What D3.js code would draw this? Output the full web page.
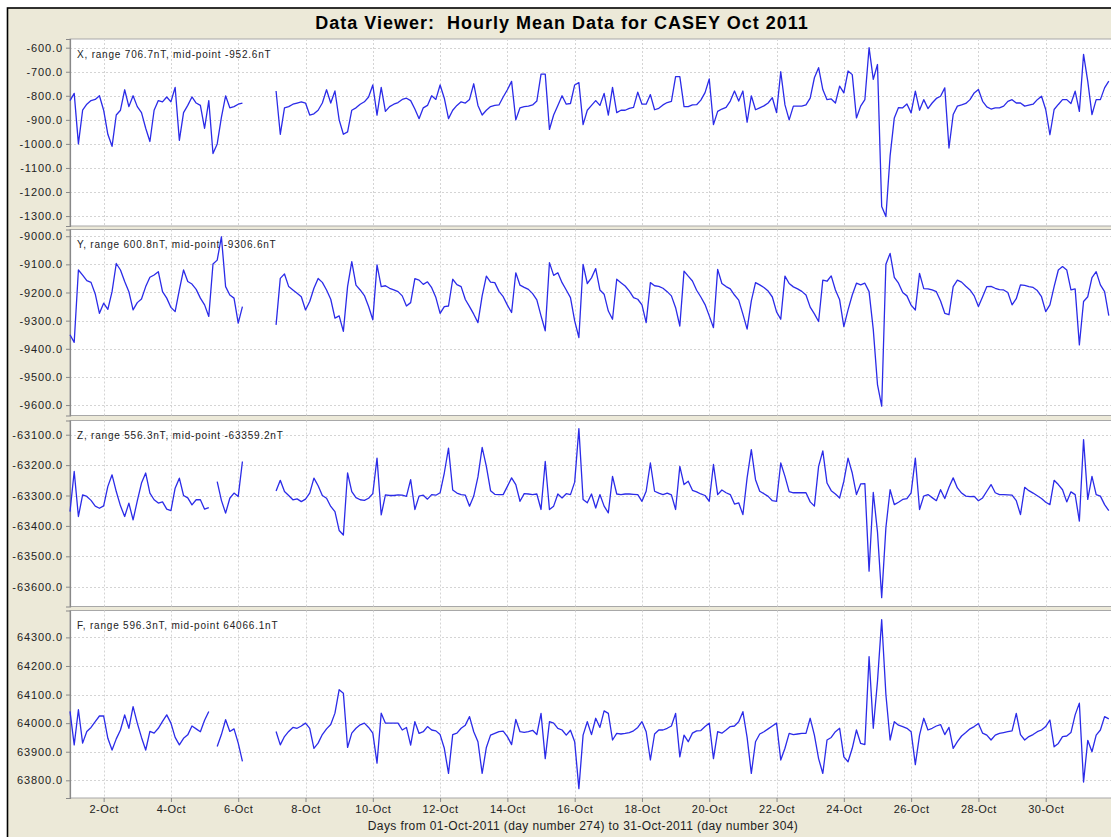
<!DOCTYPE html>
<html>
<head>
<meta charset="utf-8">
<script src="https://cdn.jsdelivr.net/npm/d3@7"></script>
<style>
  html, body { margin: 0; padding: 0; background: #ffffff; }
  svg { display: block; }
  text { font-family: "Liberation Sans", Arial, sans-serif; white-space: pre; }
</style>
</head>
<body>
<svg id="chart" width="1111" height="837"></svg>
<script>
// ---------------- DATA (3-hourly readings, 1 Oct 2011 00:00 UT onward) ----------------
const startDate = Date.UTC(2011, 9, 1);
const endDate = Date.UTC(2011, 10, 1);
const stepHours = 3;

const componentNames = ["X", "Y", "Z", "F"];
const componentRanges = [706.7, 600.8, 556.3, 596.3];
const componentMidpoints = [-952.6, -9306.6, -63359.2, 64066.1];

const ticksX = [-600, -700, -800, -900, -1000, -1100, -1200, -1300];
const ticksY = [-9000, -9100, -9200, -9300, -9400, -9500, -9600];
const ticksZ = [-63100, -63200, -63300, -63400, -63500, -63600];
const ticksF = [64300, 64200, 64100, 64000, 63900, 63800];

const dateTicks = ["2011-10-02","2011-10-04","2011-10-06","2011-10-08","2011-10-10","2011-10-12","2011-10-14",
  "2011-10-16","2011-10-18","2011-10-20","2011-10-22","2011-10-24","2011-10-26","2011-10-28","2011-10-30"];

const seriesX = [
  -820,-790,-1000,-860,-835,-820,-815,-800,
  -860,-960,-1010,-880,-860,-775,-845,-800,
  -845,-870,-935,-990,-860,-820,-825,-805,
  -825,-765,-985,-870,-840,-805,-830,-840,
  -935,-820,-1040,-1000,-890,-800,-850,-845,
  -835,-830,null,null,null,null,null,null,
  null,-780,-960,-850,-845,-835,-830,-825,
  -830,-880,-875,-860,-830,-775,-830,-780,
  -900,-960,-950,-860,-850,-835,-825,-805,
  -755,-880,-765,-865,-845,-835,-828,-815,
  -810,-820,-855,-895,-850,-840,-800,-815,
  -755,-810,-895,-860,-840,-825,-830,-815,
  -750,-840,-880,-860,-845,-840,-838,-805,
  -775,-740,-900,-850,-845,-843,-838,-822,
  -710,-710,-940,-880,-840,-800,-835,-832,
  -755,-745,-920,-860,-840,-820,-840,-790,
  -880,-765,-870,-860,-860,-852,-848,-785,
  -835,-835,-795,-858,-852,-838,-828,-823,
  -720,-720,-845,-845,-838,-837,-818,-787,
  -730,-920,-865,-855,-848,-822,-780,-822,
  -780,-910,-800,-858,-850,-842,-830,-808,
  -870,-700,-838,-900,-843,-843,-843,-838,
  -810,-725,-683,-774,-816,-813,-830,-760,
  -788,-697,-712,-892,-843,-816,-600,-732,
  -670,-1260,-1302,-1050,-892,-849,-850,-834,
  -871,-781,-860,-816,-853,-830,-811,-802,
  -767,-1017,-878,-843,-838,-832,-816,-788,
  -774,-823,-846,-855,-850,-850,-843,-823,
  -816,-830,-830,-843,-839,-835,-816,-802,
  -857,-962,-857,-836,-816,-816,-832,-781,
  -865,-628,-740,-878,-816,-816,-767,-739
];

const seriesY = [
  -9350,-9377,-9120,-9138,-9158,-9164,-9205,-9274,
  -9238,-9260,-9197,-9097,-9120,-9161,-9197,-9262,
  -9236,-9223,-9179,-9146,-9138,-9126,-9197,-9220,
  -9253,-9268,-9191,-9120,-9161,-9170,-9189,-9220,
  -9244,-9285,-9099,-9085,-9002,-9179,-9209,-9220,
  -9309,-9250,null,null,null,null,null,null,
  null,-9315,-9150,-9134,-9179,-9191,-9203,-9215,
  -9262,-9232,-9185,-9150,-9164,-9191,-9224,-9291,
  -9283,-9338,-9179,-9090,-9174,-9191,-9211,-9250,
  -9297,-9102,-9179,-9176,-9185,-9191,-9197,-9212,
  -9248,-9236,-9151,-9156,-9171,-9162,-9183,-9218,
  -9274,-9250,-9248,-9153,-9172,-9179,-9225,-9250,
  -9277,-9307,-9212,-9142,-9163,-9165,-9196,-9215,
  -9245,-9271,-9130,-9174,-9182,-9189,-9204,-9226,
  -9283,-9336,-9094,-9139,-9130,-9165,-9191,-9218,
  -9301,-9360,-9100,-9168,-9148,-9115,-9191,-9206,
  -9266,-9295,-9153,-9165,-9177,-9195,-9218,-9224,
  -9244,-9307,-9165,-9176,-9178,-9185,-9197,-9212,
  -9254,-9319,-9124,-9142,-9159,-9192,-9216,-9243,
  -9283,-9325,-9118,-9168,-9179,-9187,-9209,-9227,
  -9277,-9330,-9230,-9165,-9173,-9182,-9195,-9216,
  -9269,-9295,-9142,-9168,-9180,-9187,-9196,-9209,
  -9252,-9276,-9303,-9156,-9160,-9141,-9191,-9226,
  -9321,-9262,-9209,-9167,-9173,-9167,-9197,-9332,
  -9527,-9604,-9100,-9061,-9146,-9167,-9200,-9212,
  -9245,-9262,-9132,-9186,-9187,-9191,-9197,-9230,
  -9274,-9279,-9179,-9156,-9163,-9178,-9191,-9212,
  -9250,-9215,-9179,-9178,-9185,-9190,-9191,-9200,
  -9244,-9222,-9173,-9175,-9179,-9182,-9193,-9215,
  -9268,-9244,-9179,-9120,-9108,-9120,-9191,-9187,
  -9386,-9232,-9215,-9147,-9126,-9173,-9197,-9282
];

const seriesZ = [
  -63353,-63221,-63369,-63298,-63303,-63316,-63335,-63342,
  -63334,-63270,-63232,-63287,-63334,-63369,-63325,-63380,
  -63318,-63259,-63226,-63292,-63314,-63325,-63321,-63345,
  -63350,-63276,-63243,-63300,-63308,-63331,-63314,-63314,
  -63345,-63340,null,-63254,-63316,-63358,-63309,-63292,
  -63303,-63188,null,null,null,null,null,null,
  null,-63285,-63250,-63287,-63300,-63314,-63311,-63320,
  -63312,-63292,-63243,-63268,-63300,-63309,-63336,-63353,
  -63415,-63430,-63226,-63287,-63307,-63314,-63316,-63309,
  -63294,-63177,-63364,-63298,-63300,-63300,-63298,-63299,
  -63303,-63248,-63346,-63302,-63299,-63312,-63297,-63299,
  -63291,-63226,-63144,-63282,-63292,-63297,-63299,-63335,
  -63302,-63239,-63142,-63204,-63284,-63296,-63297,-63297,
  -63270,-63242,-63264,-63319,-63294,-63295,-63297,-63295,
  -63346,-63188,-63346,-63335,-63295,-63308,-63294,-63297,
  -63256,-63080,-63313,-63324,-63295,-63341,-63297,-63335,
  -63357,-63237,-63295,-63297,-63295,-63295,-63296,-63297,
  -63319,-63286,-63193,-63286,-63292,-63297,-63292,-63298,
  -63346,-63204,-63264,-63253,-63283,-63288,-63295,-63300,
  -63319,-63198,-63297,-63282,-63291,-63297,-63328,-63324,
  -63363,-63242,-63149,-63248,-63286,-63294,-63303,-63317,
  -63319,-63193,-63237,-63287,-63291,-63291,-63291,-63291,
  -63321,-63335,-63204,-63153,-63259,-63284,-63295,-63308,
  -63253,-63177,-63226,-63297,-63262,-63261,-63549,-63290,
  -63420,-63636,-63406,-63281,-63330,-63322,-63313,-63310,
  -63291,-63177,-63346,-63302,-63297,-63307,-63317,-63281,
  -63310,-63273,-63242,-63275,-63292,-63302,-63304,-63303,
  -63317,-63308,-63286,-63264,-63291,-63297,-63297,-63298,
  -63299,-63317,-63363,-63273,-63284,-63292,-63301,-63310,
  -63322,-63330,-63250,-63264,-63281,-63321,-63288,-63297,
  -63384,-63116,-63313,-63237,-63297,-63302,-63330,-63350
];

const seriesF = [
  64041,63924,64047,63930,63971,63985,64005,64025,
  64025,63947,63906,63945,63976,64029,63982,64058,
  64000,63950,63906,63971,63965,63982,64006,64029,
  64000,63950,63924,63947,63959,63990,63980,63970,
  64010,64041,null,63918,63960,64012,63971,63980,
  63930,63866,null,null,null,null,null,null,
  null,63971,63924,63953,63971,63985,63982,63990,
  64000,63982,63912,63930,63960,63980,63995,64035,
  64117,64105,63915,63965,63982,63994,64000,63985,
  63965,63860,64035,64000,64000,64000,64000,63976,
  63985,63923,64005,63964,63970,63988,63976,63973,
  63960,63912,63824,63960,63965,63982,63993,64023,
  63970,63935,63824,63915,63958,63964,63970,63972,
  63953,63925,64013,63970,63968,63970,63975,63960,
  64034,63876,64005,64000,63982,63976,63958,63975,
  63935,63771,63958,64005,63960,64017,63985,64043,
  64034,63941,63964,63962,63964,63967,63973,63985,
  64005,63970,63871,63962,63976,63976,63982,63990,
  64034,63882,63958,63935,63965,63973,63974,63988,
  64000,63876,63970,63965,63976,63988,63990,64005,
  64040,63950,63824,63935,63962,63970,63980,63990,
  64000,63871,63912,63964,63960,63962,63964,63964,
  64017,63958,63876,63824,63941,63950,63970,63982,
  63882,63865,63912,63976,63929,63925,64233,63982,
  64146,64362,64100,63941,64005,63993,63988,63982,
  63970,63855,63958,64017,63976,63982,63990,63995,
  63960,63985,63912,63935,63955,63967,63980,63988,
  63999,63965,63958,63941,63958,63964,63967,63970,
  63973,64034,63960,63941,63953,63960,63970,63976,
  63988,64011,63917,63929,63953,63955,63967,64029,
  64070,63794,63940,63900,63958,63976,64023,64015
];

const titleText = "Data Viewer:  Hourly Mean Data for CASEY Oct 2011";
const xAxisTitle = "Days from 01-Oct-2011 (day number 274) to 31-Oct-2011 (day number 304)";

// ---------------- LAYOUT ----------------
const W = 1111, H = 837;
const plotLeft = 70, plotRight = 1113;
const panelTops = [39, 229.5, 420.5, 610.5];
const panelBottoms = [226, 415.5, 606.5, 798];
const bg = "#ECE9D8";
const lineColor = "#2b2be8";
const gridColor = "#d4d4d4";

const svg = d3.select("#chart");

// outside white + window frame
svg.append("rect").attr("x", 0).attr("y", 0).attr("width", W).attr("height", H).attr("fill", "#ffffff");
svg.append("rect").attr("x", 7.5).attr("y", 8).attr("width", W + 20).attr("height", H + 20)
  .attr("fill", bg).attr("stroke", "#000").attr("stroke-width", 1.6);

svg.append("text").attr("x", 562).attr("y", 29).attr("text-anchor", "middle")
  .attr("font-size", "18px").attr("font-weight", "bold").attr("fill", "#000")
  .attr("letter-spacing", "1px").attr("xml:space", "preserve").text(titleText);

const x = d3.scaleUtc().domain([startDate, endDate]).range([plotLeft, plotRight]);
const times = seriesX.map((_, i) => startDate + i * stepHours * 3600 * 1000);
const dateTickValues = dateTicks.map(s => new Date(s + "T00:00:00Z"));
const fmtDate = d3.utcFormat("%-d-%b");

const allSeries = [seriesX, seriesY, seriesZ, seriesF];
const allTicks = [ticksX, ticksY, ticksZ, ticksF];

allSeries.forEach((vals, p) => {
  const top = panelTops[p], bottom = panelBottoms[p];
  const mid = componentMidpoints[p], rng = componentRanges[p];
  const y = d3.scaleLinear().domain([mid - rng * 0.55, mid + rng * 0.55]).range([bottom, top]);
  const g = svg.append("g");

  g.append("rect").attr("x", plotLeft).attr("y", top).attr("width", plotRight - plotLeft)
    .attr("height", bottom - top).attr("fill", "#fff").attr("stroke", "#a8a8a8").attr("stroke-width", 1);

  // grid lines
  g.selectAll(".hg").data(allTicks[p]).join("line")
    .attr("x1", plotLeft).attr("x2", plotRight)
    .attr("y1", d => Math.round(y(d)) + 0.5).attr("y2", d => Math.round(y(d)) + 0.5)
    .attr("stroke", gridColor).attr("stroke-dasharray", "2,2").attr("stroke-width", 1);
  g.selectAll(".vg").data(dateTickValues).join("line")
    .attr("x1", d => Math.round(x(d)) + 0.5).attr("x2", d => Math.round(x(d)) + 0.5)
    .attr("y1", top).attr("y2", bottom)
    .attr("stroke", gridColor).attr("stroke-dasharray", "2,2").attr("stroke-width", 1);

  // y axis
  const yAxis = d3.axisLeft(y).tickValues(allTicks[p]).tickSize(4).tickPadding(3)
    .tickFormat(d => d.toFixed(1));
  const ag = g.append("g").attr("transform", `translate(${plotLeft},0)`).call(yAxis);
  ag.select(".domain").attr("stroke", "#888").attr("stroke-width", 1.2);
  ag.selectAll(".tick line").attr("stroke", "#888");
  ag.selectAll(".tick text").attr("font-size", "11px").attr("fill", "#222")
    .attr("font-family", "'Liberation Sans', Arial, sans-serif").attr("letter-spacing", "0.9px");

  // series line
  const line = d3.line().defined(d => d[1] != null).x(d => x(d[0])).y(d => y(d[1]));
  const pts = vals.map((v, i) => [times[i], v]);
  g.append("path").datum(pts).attr("d", line).attr("fill", "none")
    .attr("stroke", lineColor).attr("stroke-width", 1.3).attr("stroke-linejoin", "round");

  // panel label
  g.append("text").attr("x", 77).attr("y", top + 18.5).attr("font-size", "10px").attr("fill", "#222")
    .attr("letter-spacing", "0.8px")
    .text(`${componentNames[p]}, range ${rng.toFixed(1)}nT, mid-point ${mid.toFixed(1)}nT`);
});

// x axis
const xAxis = d3.axisBottom(x).tickValues(dateTickValues).tickSize(4).tickPadding(3).tickFormat(fmtDate);
const xg = svg.append("g").attr("transform", `translate(0,${panelBottoms[3]})`).call(xAxis);
xg.select(".domain").remove();
xg.selectAll(".tick line").attr("stroke", "#888");
xg.selectAll(".tick text").attr("font-size", "11px").attr("fill", "#222")
  .attr("font-family", "'Liberation Sans', Arial, sans-serif").attr("letter-spacing", "0.5px");

svg.append("text").attr("x", 583).attr("y", 830).attr("text-anchor", "middle")
  .attr("font-size", "12px").attr("fill", "#222").attr("letter-spacing", "0.4px").text(xAxisTitle);
</script>
</body>
</html>
